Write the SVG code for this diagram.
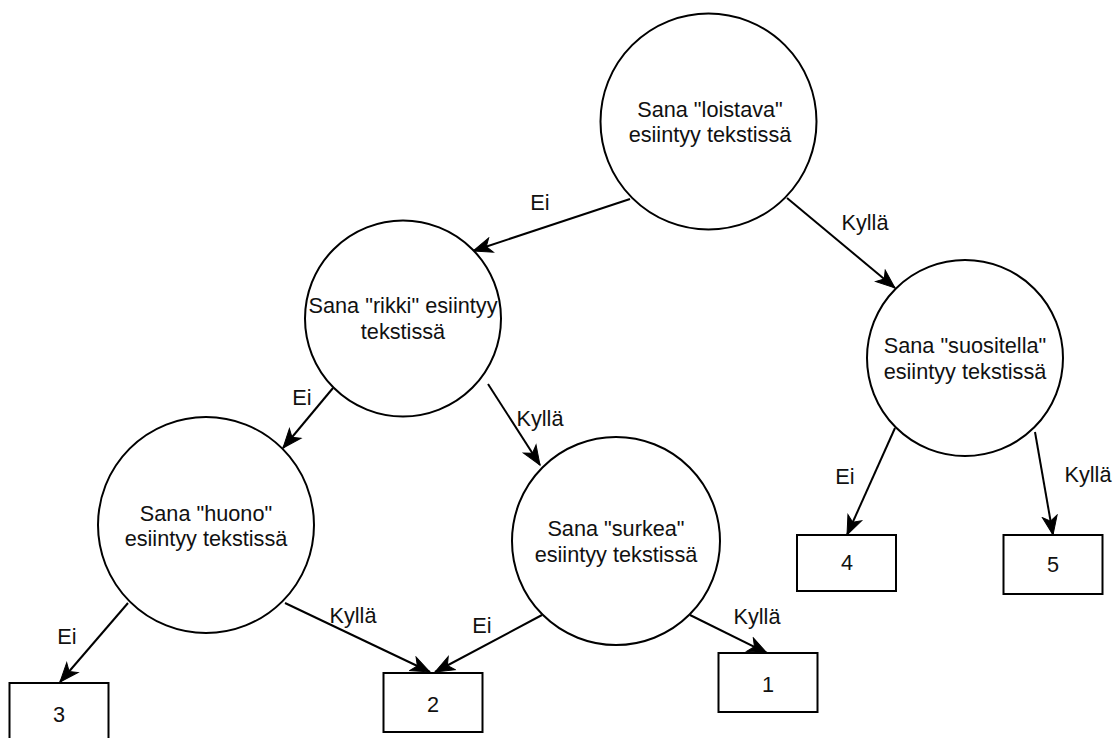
<svg xmlns="http://www.w3.org/2000/svg" width="1118" height="738" viewBox="0 0 1118 738">
<style>
.node{fill:#fff;stroke:#000;stroke-width:2}
.t{font-family:"Liberation Sans",Arial,Helvetica,sans-serif;font-size:21.7px;fill:#111;text-anchor:middle}
.edge{stroke:#000;stroke-width:2;fill:none}
</style>
<defs>
<marker id="arr" markerUnits="userSpaceOnUse" markerWidth="24" markerHeight="20" viewBox="-20 -10 24 20" refX="0" refY="0" orient="auto">
<path d="M0,0 L-19,-7.5 L-14,0 L-19,7.5 Z" fill="#000" stroke="#000" stroke-width="1"/>
</marker>
</defs>
<rect width="1118" height="738" fill="#fff"/>
<g id="connectors">
<line class="edge" x1="630" y1="199" x2="473" y2="251" marker-end="url(#arr)"/>
<text class="t" x="540" y="210">Ei</text>
<line class="edge" x1="787" y1="198" x2="895" y2="288" marker-end="url(#arr)"/>
<text class="t" x="865" y="230">Kyllä</text>
<line class="edge" x1="333" y1="388" x2="283" y2="448" marker-end="url(#arr)"/>
<text class="t" x="302" y="405">Ei</text>
<line class="edge" x1="488" y1="384" x2="540" y2="465" marker-end="url(#arr)"/>
<text class="t" x="540" y="426">Kyllä</text>
<line class="edge" x1="895" y1="428" x2="847" y2="535" marker-end="url(#arr)"/>
<text class="t" x="845" y="484">Ei</text>
<line class="edge" x1="1035" y1="432" x2="1053" y2="535" marker-end="url(#arr)"/>
<text class="t" x="1088" y="482">Kyllä</text>
<line class="edge" x1="128" y1="603" x2="60" y2="682" marker-end="url(#arr)"/>
<text class="t" x="67" y="644">Ei</text>
<line class="edge" x1="285" y1="603" x2="430" y2="672" marker-end="url(#arr)"/>
<text class="t" x="353" y="623">Kyllä</text>
<line class="edge" x1="542" y1="615" x2="435" y2="672" marker-end="url(#arr)"/>
<text class="t" x="482" y="633">Ei</text>
<line class="edge" x1="690" y1="615" x2="767" y2="653" marker-end="url(#arr)"/>
<text class="t" x="757" y="624">Kyllä</text>
</g>
<g id="n-loistava">
<circle class="node" cx="708.5" cy="121.5" r="108"/>
<text class="t" x="710" y="117">Sana "loistava"</text>
<text class="t" x="710" y="142">esiintyy tekstissä</text>
</g>
<g id="n-rikki">
<circle class="node" cx="403" cy="318.5" r="98"/>
<text class="t" x="403" y="313">Sana "rikki" esiintyy</text>
<text class="t" x="403" y="339">tekstissä</text>
</g>
<g id="n-suositella">
<circle class="node" cx="965" cy="358" r="98"/>
<text class="t" x="965" y="353">Sana "suositella"</text>
<text class="t" x="965" y="379">esiintyy tekstissä</text>
</g>
<g id="n-huono">
<circle class="node" cx="206" cy="525" r="108"/>
<text class="t" x="206" y="521">Sana "huono"</text>
<text class="t" x="206" y="546">esiintyy tekstissä</text>
</g>
<g id="n-surkea">
<circle class="node" cx="616" cy="541" r="104"/>
<text class="t" x="616" y="536">Sana "surkea"</text>
<text class="t" x="616" y="562">esiintyy tekstissä</text>
</g>
<g id="n-3">
<rect class="node" x="9.5" y="683" width="99" height="59"/>
<text class="t" x="59" y="722">3</text>
</g>
<g id="n-2">
<rect class="node" x="383.5" y="673" width="99" height="59"/>
<text class="t" x="433" y="712">2</text>
</g>
<g id="n-1">
<rect class="node" x="718.5" y="653" width="99" height="59"/>
<text class="t" x="768" y="692">1</text>
</g>
<g id="n-4">
<rect class="node" x="797" y="535" width="99" height="56"/>
<text class="t" x="847" y="570">4</text>
</g>
<g id="n-5">
<rect class="node" x="1003.5" y="535" width="99" height="59"/>
<text class="t" x="1053" y="572">5</text>
</g>
</svg>
